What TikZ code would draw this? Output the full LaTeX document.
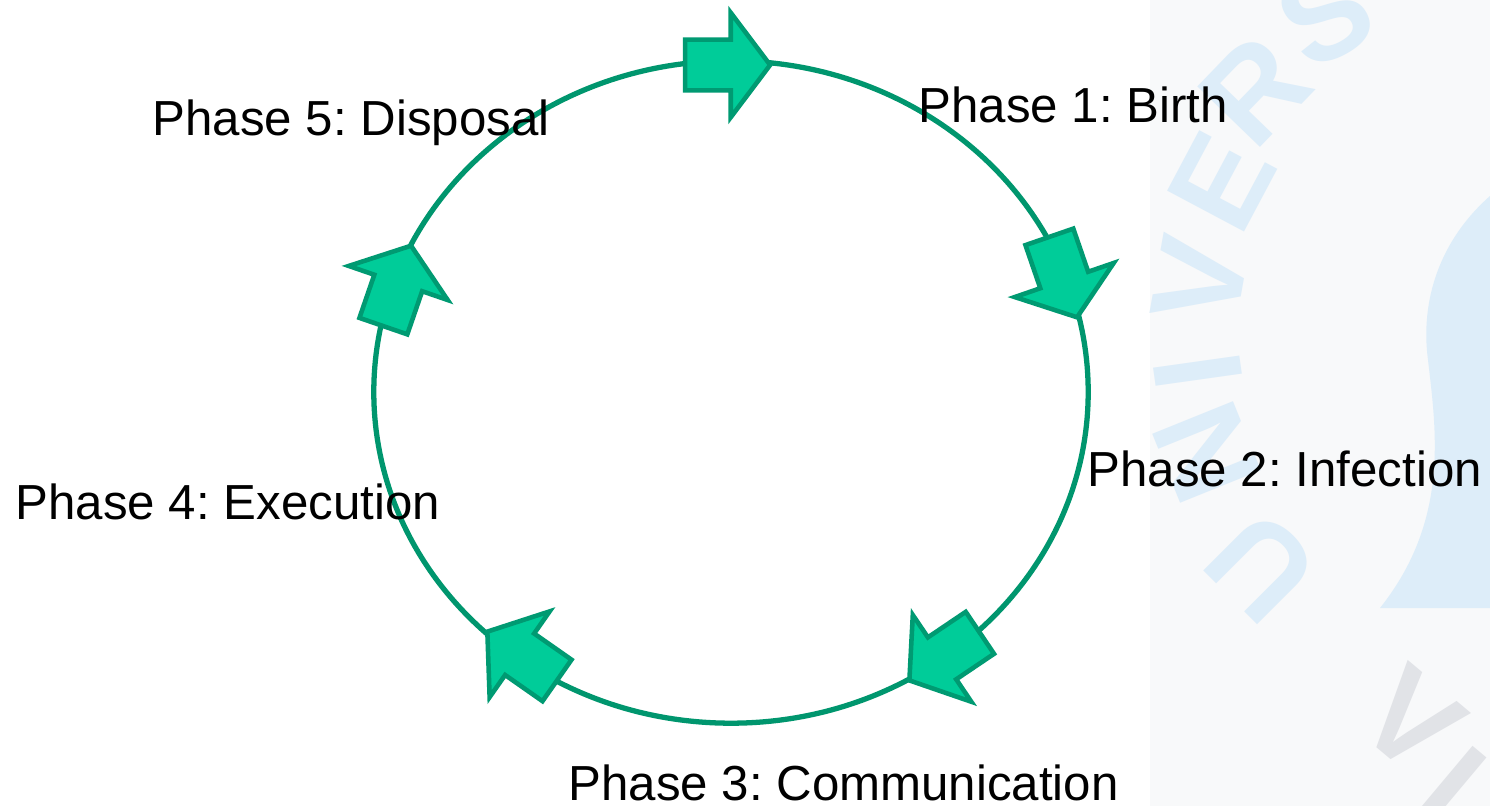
\documentclass[tikz,border=0pt]{standalone}
\usepackage{fontspec}
\setmainfont{Liberation Sans}
\frenchspacing
\usetikzlibrary{shapes.arrows, shapes.geometric}

\definecolor{ringgreen}{HTML}{00966E}
\definecolor{arrowfill}{HTML}{00CC99}
\definecolor{arrowline}{HTML}{009A72}
\definecolor{panelgray}{HTML}{F8F9FA}
\definecolor{markblue}{HTML}{DDEDF9}
\definecolor{markgray}{HTML}{E1E3E7}

\tikzset{
  phase/.style={font=\fontsize{14}{16}\selectfont, inner sep=0pt, anchor=base west},
  cyclearrow/.style={single arrow, draw=arrowline, fill=arrowfill, line width=1.3pt,
    minimum height=0.85cm, inner xsep=0pt, inner ysep=0.23cm,
    single arrow head extend=0.27cm, single arrow tip angle=106, anchor=tip},
  markletter/.style={font=\fontsize{36}{36}\bfseries\selectfont, text=markblue, inner sep=0pt}
}

\begin{document}
\begin{tikzpicture}[x=0.01cm, y=-0.01cm]
    % Seite und grauer Rand rechts
    \useasboundingbox (0,0) rectangle (1490,806);
    \fill[white] (0,0) rectangle (1490,806);
    \fill[panelgray] (1150,0) rectangle (1490,806);

    % Wasserzeichen
    \fill[markblue] (1490,196) .. controls (1440,240) and (1420,300) .. (1428,360)
        .. controls (1436,430) and (1450,520) .. (1380,608) -- (1490,608) -- cycle;
    \node (wmU) [markletter, rotate=135] at (1262,567) {U};
    \node (wmN) [markletter, rotate=112] at (1207,452) {N};
    \node (wmI) [markletter, rotate=98] at (1198,371) {I};
    \node (wmV) [markletter, rotate=80] at (1200,280) {V};
    \node (wmE) [markletter, rotate=62] at (1222,182) {E};
    \node (wmR) [markletter, rotate=46] at (1255,90) {R};
    \node (wmS) [markletter, rotate=29] at (1325,15) {S};
    \node (wmV2) [markletter, text=markgray, rotate=-40] at (1412,720) {V};
    \node (wmI2) [markletter, text=markgray, rotate=-40] at (1452,785) {I};

    % Kreislauf
    \node (ring) [ellipse, draw=ringgreen, line width=1.5pt, minimum width=7.14cm,
        minimum height=6.62cm, inner sep=0pt] at (731,392) {};

    % Pfeile auf dem Kreis
    \node (arrBirth) [cyclearrow, rotate=0] at (773,65) {};
    \node (arrInfection) [cyclearrow, rotate=-71] at (1078,320) {};
    \node (arrComm) [cyclearrow, rotate=214] at (907,682) {};
    \node (arrExec) [cyclearrow, rotate=145] at (485,630) {};
    \node (arrDisp) [cyclearrow, rotate=71] at (412,243) {};

    % Phasen
    \node (birth) [phase] at (918,122) {Phase 1: Birth};
    \node (infection) [phase] at (1087,486) {Phase 2: Infection};
    \node (comm) [phase] at (568,800) {Phase 3: Communication};
    \node (exec) [phase] at (15,519) {Phase 4: Execution};
    \node (disp) [phase] at (152,135) {Phase 5: Disposal};
\end{tikzpicture}
\end{document}
